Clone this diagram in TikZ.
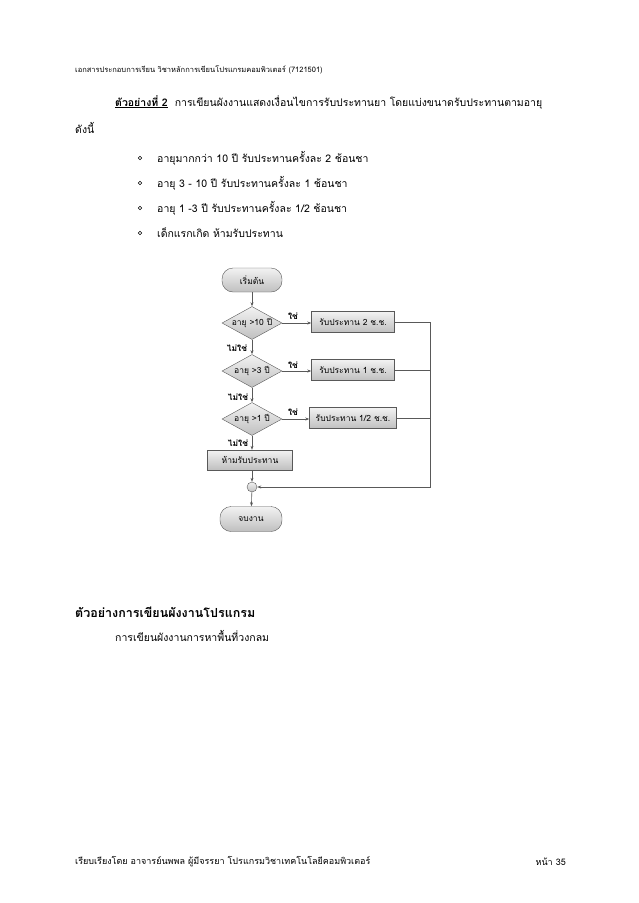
\documentclass[tikz,border=0pt]{standalone}
\usepackage{fontspec}
\newfontfamily\thai[Script=Thai]{Loma}
\usetikzlibrary{shapes.geometric,arrows.meta}
\begin{document}
\begin{tikzpicture}[x=1pt,y=-1pt,
  txt/.style={font=\thai\fontsize{10.5}{12}\selectfont,anchor=west,inner sep=0},
  fl/.style={font=\thai\fontsize{8.5}{10}\selectfont,draw=gray!70!black,top color=gray!10,bottom color=gray!50,inner sep=1pt},
  lab/.style={font=\thai\bfseries\fontsize{8.5}{10}\selectfont,inner sep=0},
  ln/.style={draw=gray!70!black,line width=0.6pt},
  ar/.style={ln,-{Stealth[length=4pt]}}]
\useasboundingbox (0,0) rectangle (638,903);
\node[txt,font=\thai\fontsize{7.5}{9}\selectfont] (hd) at (75,70) {เอกสารประกอบการเรียน วิชาหลักการเขียนโปรแกรมคอมพิวเตอร์ (7121501)};
\node[txt] (l1) at (115,102) {\underline{\textbf{ตัวอย่างที่ 2}}\ \ การเขียนผังงานแสดงเงื่อนไขการรับประทานยา โดยแบ่งขนาดรับประทานตามอายุ};
\node[txt] (l2) at (75,128) {ดังนี้};
\foreach \y/\t [count=\i] in {158/{อายุมากกว่า 10 ปี รับประทานครั้งละ 2 ช้อนชา},183/{อายุ 3 - 10 ปี รับประทานครั้งละ 1 ช้อนชา},208/{อายุ 1 -3 ปี รับประทานครั้งละ 1/2 ช้อนชา},233/{เด็กแรกเกิด ห้ามรับประทาน}}{
  \node[circle,draw,inner sep=0,minimum size=3.5pt,line width=0.5pt] (b\i) at (140,\y) {};
  \node[txt] (t\i) at (157,\y) {\t};
}
% flowchart
\node[fl,rounded corners=11pt,minimum width=60pt,minimum height=24pt] (st) at (252,280) {เริ่มต้น};
\node[fl,diamond,aspect=1.8,minimum width=60pt,minimum height=33pt,inner sep=0] (d1) at (252,323) {อายุ >10 ปี};
\node[fl,diamond,aspect=1.8,minimum width=60pt,minimum height=33pt,inner sep=0] (d2) at (252,371) {อายุ >3 ปี};
\node[fl,diamond,aspect=1.8,minimum width=60pt,minimum height=33pt,inner sep=0] (d3) at (252,419) {อายุ >1 ปี};
\node[fl,minimum width=83pt,minimum height=21pt] (r1) at (353,322) {รับประทาน 2 ช.ช.};
\node[fl,minimum width=83pt,minimum height=21pt] (r2) at (353,370) {รับประทาน 1 ช.ช.};
\node[fl,minimum width=87pt,minimum height=21pt] (r3) at (353,418) {รับประทาน 1/2 ช.ช.};
\node[fl,minimum width=85pt,minimum height=20pt] (no) at (250,460) {ห้ามรับประทาน};
\node[fl,circle,minimum size=10pt,inner sep=0] (j) at (252,487) {};
\node[fl,rounded corners=11pt,minimum width=62pt,minimum height=25pt] (en) at (251,519) {จบงาน};
\draw[ar] (st) -- (d1);
\draw[ar] (d1) -- (d2);
\draw[ar] (d2) -- (d3);
\draw[ar] (d3.south) -- (no.north -| d3.south);
\draw[ar] (no.south -| j) -- (j);
\draw[ar] (j) -- (en);
\draw[ar] (d1.east) -- (r1.west |- d1.east);
\draw[ar] (d2.east) -- (r2.west |- d2.east);
\draw[ar] (d3.east) -- (r3.west |- d3.east);
\coordinate (c1) at (430,322);
\coordinate (c4) at (430,487);
\draw[ln] (r1.east) -- (c1);
\draw[ln] (r2.east) -- (r2.east -| c1);
\draw[ln] (r3.east) -- (r3.east -| c1);
\draw[ar] (c1) -- (c4) -- (j);
\node[lab] (y1) at (293,316) {ใช่};
\node[lab] (y2) at (293,365) {ใช่};
\node[lab] (y3) at (293,412) {ใช่};
\node[lab] (n1) at (237,348) {ไม่ใช่};
\node[lab] (n2) at (238,397) {ไม่ใช่};
\node[lab] (n3) at (238,443) {ไม่ใช่};
% lower text
\node[txt,font=\thai\bfseries\fontsize{12.5}{14}\selectfont] (h2) at (75,612) {ตัวอย่างการเขียนผังงานโปรแกรม};
\node[txt] (l3) at (115,636) {การเขียนผังงานการหาพื้นที่วงกลม};
\node[txt,font=\thai\fontsize{9}{11}\selectfont] (ft) at (75,862) {เรียบเรียงโดย อาจารย์นพพล ผู้มีจรรยา โปรแกรมวิชาเทคโนโลยีคอมพิวเตอร์};
\node[txt,anchor=east,font=\thai\fontsize{9}{11}\selectfont] (pg) at (566,862) {หน้า 35};
\end{tikzpicture}
\end{document}
